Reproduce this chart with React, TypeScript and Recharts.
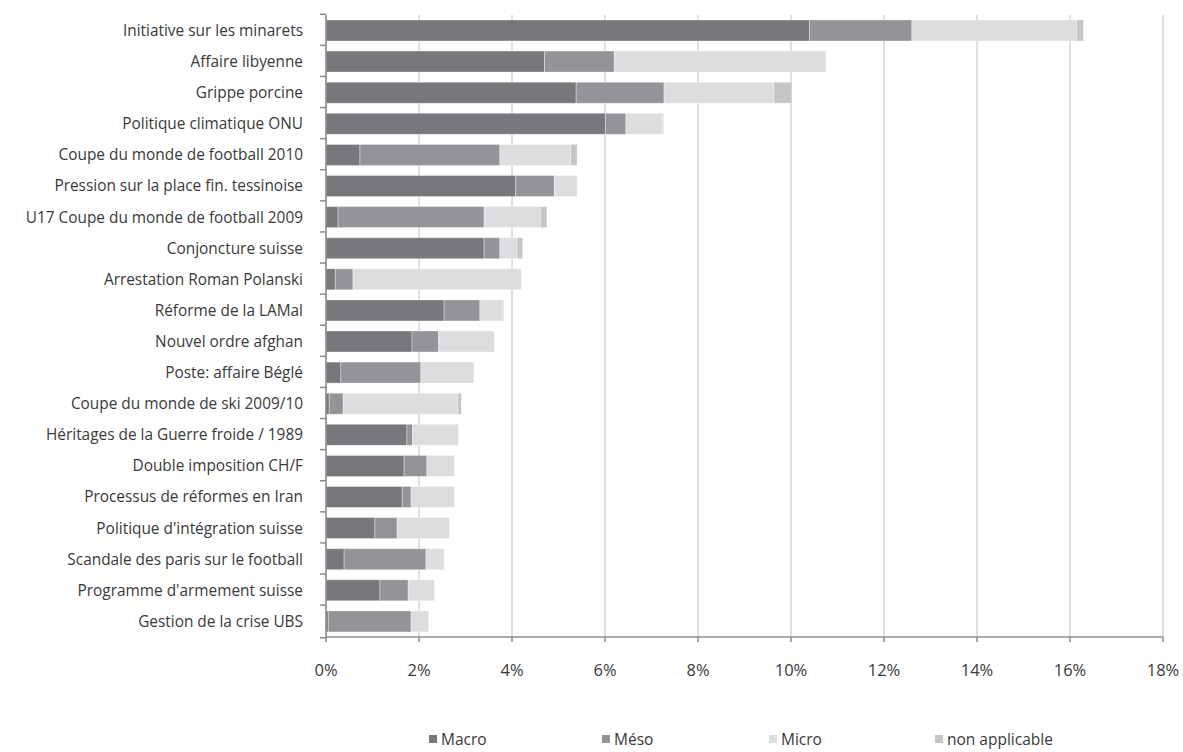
import React from 'react';
import { BarChart, Bar, XAxis, YAxis, CartesianGrid } from 'recharts';

const categories = [
  'Initiative sur les minarets',
  'Affaire libyenne',
  'Grippe porcine',
  'Politique climatique ONU',
  'Coupe du monde de football 2010',
  'Pression sur la place fin. tessinoise',
  'U17 Coupe du monde de football 2009',
  'Conjoncture suisse',
  'Arrestation Roman Polanski',
  'Réforme de la LAMal',
  'Nouvel ordre afghan',
  'Poste: affaire Béglé',
  'Coupe du monde de ski 2009/10',
  'Héritages de la Guerre froide / 1989',
  'Double imposition CH/F',
  'Processus de réformes en Iran',
  "Politique d'intégration suisse",
  'Scandale des paris sur le football',
  "Programme d'armement suisse",
  'Gestion de la crise UBS',
];

const macro = [10.4, 4.7, 5.38, 6.01, 0.73, 4.08, 0.26, 3.4, 0.2, 2.54, 1.85, 0.32, 0.07, 1.74, 1.68, 1.64, 1.05, 0.39, 1.16, 0.05];
const meso = [2.2, 1.5, 1.89, 0.44, 3.01, 0.83, 3.14, 0.34, 0.38, 0.77, 0.57, 1.72, 0.3, 0.12, 0.49, 0.19, 0.48, 1.76, 0.61, 1.78];
const micro = [3.54, 4.55, 2.36, 0.79, 1.52, 0.49, 1.21, 0.37, 3.62, 0.49, 1.2, 1.14, 2.46, 0.99, 0.59, 0.93, 1.13, 0.39, 0.56, 0.38];
const nonApplicable = [0.15, 0, 0.39, 0.02, 0.14, 0, 0.14, 0.12, 0, 0.02, 0, 0, 0.08, 0, 0, 0, 0, 0, 0, 0];

const xTicks = [0, 2, 4, 6, 8, 10, 12, 14, 16, 18];

const seriesNames = ['Macro', 'Méso', 'Micro', 'non applicable'];
const seriesColors = ['#77787b', '#939497', '#dcdddf', '#c5c6c8'];

const data = categories.map((name, i) => ({
  name,
  macro: macro[i],
  meso: meso[i],
  micro: micro[i],
  na: nonApplicable[i],
}));

const FONT = '"Open Sans", "Noto Sans", sans-serif';
const TEXT = '#3a3a3a';
const AXIS = '#8c8c8c';
const BAND = 32.6;

const YTick = (props: any) => {
  const { y, payload, index } = props;
  const x = 303;
  const ax = 326;
  return (
    <g>
      <line x1={ax - 6} x2={ax} y1={y - BAND / 2} y2={y - BAND / 2} stroke={AXIS} strokeWidth={1.5} />
      {index === categories.length - 1 && (
        <line x1={ax - 6} x2={ax} y1={y + BAND / 2} y2={y + BAND / 2} stroke={AXIS} strokeWidth={1.5} />
      )}
      <text x={x} y={y} dy="0.35em" textAnchor="end" fill={TEXT} fontSize={15.4} fontFamily={FONT}>
        {payload.value}
      </text>
    </g>
  );
};

const legendLefts = [429, 602, 769, 935];

export default function App() {
  return (
    <div style={{ position: 'absolute', left: 0, top: 0, width: 1183, height: 752, background: '#fff', overflow: 'hidden' }}>
      <BarChart
        width={1183}
        height={752}
        data={data}
        layout="vertical"
        margin={{ top: 15, right: 20, bottom: 85, left: 0 }}
        barSize={21}
      >
        <CartesianGrid horizontal={false} vertical stroke="#d6d6d6" strokeWidth={1.5} />
        <XAxis
          type="number"
          domain={[0, 18]}
          ticks={xTicks}
          interval={0}
          tickFormatter={(v: number) => `${v}%`}
          axisLine={{ stroke: AXIS, strokeWidth: 1.5 }}
          tickLine={{ stroke: AXIS, strokeWidth: 1.5 }}
          tickSize={5}
          tickMargin={22}
          tick={{ fill: TEXT, fontSize: 16.5, fontFamily: FONT }}
        />
        <YAxis
          type="category"
          dataKey="name"
          width={326}
          interval={0}
          axisLine={{ stroke: AXIS, strokeWidth: 1.5 }}
          tickLine={false}
          tickSize={0}
          tickMargin={0}
          tick={(p: any) => <YTick {...p} />}
        />
        <Bar dataKey="macro" name="Macro" stackId="a" fill={seriesColors[0]} stroke="#ffffff" strokeOpacity={0.35} strokeWidth={1} isAnimationActive={false} />
        <Bar dataKey="meso" name="Méso" stackId="a" fill={seriesColors[1]} stroke="#ffffff" strokeOpacity={0.35} strokeWidth={1} isAnimationActive={false} />
        <Bar dataKey="micro" name="Micro" stackId="a" fill={seriesColors[2]} stroke="#ffffff" strokeOpacity={0.35} strokeWidth={1} isAnimationActive={false} />
        <Bar dataKey="na" name="non applicable" stackId="a" fill={seriesColors[3]} stroke="#ffffff" strokeOpacity={0.35} strokeWidth={1} isAnimationActive={false} />
      </BarChart>
      {seriesNames.map((n, i) => (
        <div
          key={n}
          style={{
            position: 'absolute',
            left: legendLefts[i],
            top: 729,
            height: 20,
            display: 'flex',
            alignItems: 'center',
            fontFamily: FONT,
            fontSize: 15.5,
            color: TEXT,
            whiteSpace: 'nowrap',
            lineHeight: '20px',
          }}
        >
          <span style={{ display: 'inline-block', width: 8, height: 8, background: seriesColors[i], marginRight: 4 }} />
          {n}
        </div>
      ))}
    </div>
  );
}
